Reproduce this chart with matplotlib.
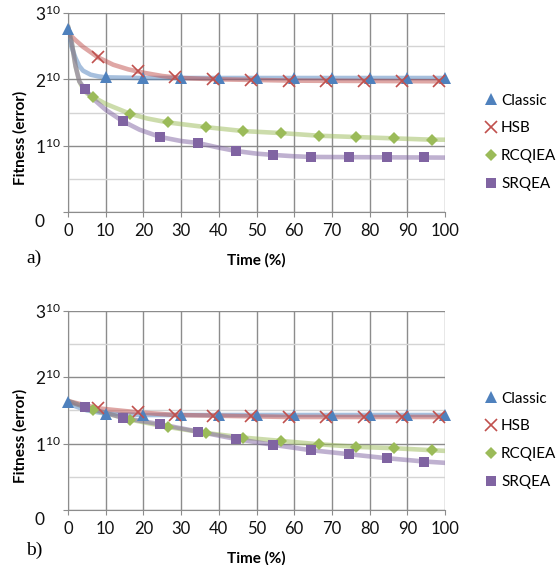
import matplotlib
matplotlib.use("Agg")
import matplotlib.pyplot as plt
from matplotlib.lines import Line2D
from matplotlib.transforms import ScaledTranslation

plt.rcParams["font.family"] = ["Lato", "DejaVu Sans"]
plt.rcParams["mathtext.fontset"] = "custom"
plt.rcParams["mathtext.rm"] = "Lato"

# ── series names / colours ──────────────────────────────────────────────────
NAMES   = ["Classic", "HSB", "RCQIEA", "SRQEA"]
COLORS  = ["#4F81BD", "#C0504D", "#9BBB59", "#8064A2"]
MARKERS = ["^", "x", "D", "s"]
MSIZE   = [9, 8, 6, 7]

# marker positions (time %), shared by both panels
MX_CLASSIC = [0, 10, 20, 30, 40, 50, 60, 70, 80, 90, 100]
MX_HSB     = [8, 18.5, 28.5, 38.5, 48.5, 58.5, 68.5, 78.5, 88.5, 98.5]
MX_RCQIEA  = [6.5, 16.5, 26.5, 36.5, 46.5, 56.5, 66.5, 76.5, 86.5, 96.5]
MX_SRQEA   = [4.5, 14.5, 24.5, 34.5, 44.5, 54.5, 64.5, 74.5, 84.5, 94.5]

# ── panel a): marker values (x 1e10) ────────────────────────────────────────
A_CLASSIC = [2.76, 2.03, 2.02, 2.02, 2.02, 2.02, 2.02, 2.02, 2.02, 2.02, 2.02]
A_HSB     = [2.33, 2.12, 2.03, 2.00, 1.99, 1.98, 1.97, 1.97, 1.97, 1.97]
A_RCQIEA  = [1.74, 1.48, 1.35, 1.28, 1.22, 1.19, 1.15, 1.13, 1.11, 1.09]
A_SRQEA   = [1.85, 1.37, 1.13, 1.04, 0.92, 0.86, 0.83, 0.83, 0.83, 0.83]

# panel a): curve knots
A_LX_CLASSIC = [0, 0.5, 1, 2, 3, 4, 6, 8, 10, 15, 20, 100]
A_LY_CLASSIC = [2.78, 2.62, 2.48, 2.32, 2.2, 2.13, 2.07, 2.045, 2.03, 2.025, 2.02, 2.02]
A_LX_HSB = [0, 2, 4, 6, 8, 12, 16, 20, 25, 30, 40, 50, 60, 100]
A_LY_HSB = [2.70, 2.59, 2.49, 2.41, 2.33, 2.22, 2.15, 2.10, 2.05, 2.02, 2.00, 1.99, 1.98, 1.97]
A_LX_RCQIEA = [0, 1, 2, 3, 4, 5, 6.5, 10, 16.5, 21, 26.5, 36.5, 46.5, 56.5, 66.5, 76.5, 86.5, 96.5, 100]
A_LY_RCQIEA = [2.80, 2.55, 2.20, 1.97, 1.86, 1.79, 1.74, 1.63, 1.48, 1.41, 1.35, 1.28, 1.22, 1.19,
               1.15, 1.13, 1.11, 1.09, 1.09]
A_LX_SRQEA = [0, 1, 2, 3, 4.5, 7, 10, 14.5, 19, 24.5, 30, 34.5, 40, 44.5, 50, 54.5, 60, 64.5, 100]
A_LY_SRQEA = [2.80, 2.55, 2.20, 1.97, 1.85, 1.69, 1.54, 1.37, 1.24, 1.13, 1.07, 1.04, 0.97, 0.92,
              0.88, 0.86, 0.84, 0.83, 0.82]

# ── panel b) ────────────────────────────────────────────────────────────────
B_CLASSIC = [1.62, 1.44, 1.43, 1.43, 1.43, 1.43, 1.43, 1.43, 1.43, 1.43, 1.43]
B_HSB     = [1.53, 1.47, 1.43, 1.42, 1.42, 1.40, 1.40, 1.40, 1.40, 1.40]
B_RCQIEA  = [1.51, 1.36, 1.25, 1.16, 1.09, 1.04, 0.99, 0.95, 0.93, 0.90]
B_SRQEA   = [1.55, 1.39, 1.29, 1.18, 1.07, 0.98, 0.90, 0.84, 0.78, 0.73]

B_LX_CLASSIC = [0, 2, 5, 10, 20, 100]
B_LY_CLASSIC = [1.63, 1.56, 1.50, 1.45, 1.43, 1.43]
B_LX_HSB = [0, 8, 18.5, 28.5, 38.5, 58.5, 100]
B_LY_HSB = [1.64, 1.53, 1.47, 1.43, 1.42, 1.40, 1.40]
B_LX_RCQIEA = [0, 6.5, 16.5, 26.5, 36.5, 46.5, 56.5, 66.5, 76.5, 86.5, 96.5, 100]
B_LY_RCQIEA = [1.64, 1.51, 1.36, 1.25, 1.16, 1.09, 1.04, 0.99, 0.95, 0.93, 0.90, 0.89]
B_LX_SRQEA = [0, 4.5, 14.5, 24.5, 34.5, 44.5, 54.5, 64.5, 74.5, 84.5, 94.5, 100]
B_LY_SRQEA = [1.64, 1.55, 1.39, 1.29, 1.18, 1.07, 0.98, 0.90, 0.84, 0.78, 0.73, 0.71]

Y_TICKS  = [0, 1, 2, 3]
Y_LABELS = ["0", r"$\mathregular{1^{10}}$", r"$\mathregular{2^{10}}$", r"$\mathregular{3^{10}}$"]
X_TICKS  = list(range(0, 101, 10))

MX = [MX_CLASSIC, MX_HSB, MX_RCQIEA, MX_SRQEA]
PANELS = [
    dict(marks=[A_CLASSIC, A_HSB, A_RCQIEA, A_SRQEA],
         lines=[(A_LX_CLASSIC, A_LY_CLASSIC), (A_LX_HSB, A_LY_HSB),
                (A_LX_RCQIEA, A_LY_RCQIEA), (A_LX_SRQEA, A_LY_SRQEA)],
         rect=[68/559, 353/565, 377/559, 199/565], tag="a)", tag_y=307/565),
    dict(marks=[B_CLASSIC, B_HSB, B_RCQIEA, B_SRQEA],
         lines=[(B_LX_CLASSIC, B_LY_CLASSIC), (B_LX_HSB, B_LY_HSB),
                (B_LX_RCQIEA, B_LY_RCQIEA), (B_LX_SRQEA, B_LY_SRQEA)],
         rect=[68/559, 55/565, 377/559, 199.3/565], tag="b)", tag_y=15/565),
]

fig = plt.figure(figsize=(5.59, 5.65), dpi=100)

for p in PANELS:
    ax = fig.add_axes(p["rect"])
    ax.set_xlim(0, 100)
    ax.set_ylim(0, 3)

    for (lx, ly), c in zip(p["lines"], COLORS):
        ax.plot(lx, ly, color=c, lw=3.3, alpha=0.5, solid_capstyle="round", zorder=3)
    for mx, my, c, m, s in zip(MX, p["marks"], COLORS, MARKERS, MSIZE):
        ax.plot(mx, my, ls="none", marker=m, ms=s, color=c, mew=1.2 if m == "x" else 0,
                zorder=4, clip_on=False)

    # grid
    ax.set_xticks(X_TICKS)
    ax.set_yticks(Y_TICKS)
    ax.set_yticks([0.5, 1.5, 2.5], minor=True)
    ax.grid(True, which="major", color="#8c8c8c", lw=1.0, zorder=0)
    ax.grid(True, which="minor", axis="y", color="#d4d4d4", lw=1.0, zorder=0)
    for side in ["top", "right"]:
        ax.spines[side].set_visible(False)
    for side in ["left", "bottom"]:
        ax.spines[side].set_color("#8c8c8c")
    ax.tick_params(which="major", direction="out", length=3.5, color="#8c8c8c",
                   labelsize=12, labelcolor="#111111")
    ax.tick_params(which="minor", length=0)
    ax.tick_params(axis="x", pad=4.5)
    ax.tick_params(axis="y", pad=20.5)

    ax.set_yticklabels(Y_LABELS)
    for lbl in ax.get_yticklabels():
        lbl.set_ha("left")
        lbl.set_fontsize(12.5)
    zero = ax.get_yticklabels()[0]
    zero.set_transform(zero.get_transform() + ScaledTranslation(0, -6/72, fig.dpi_scale_trans))

    ax.set_xlabel("Time (%)", fontsize=11, fontweight="bold")
    ax.xaxis.set_label_coords(0.5, -0.205)
    ax.set_ylabel("Fitness (error)", fontsize=11, fontweight="bold")
    ax.yaxis.set_label_coords(-0.108, 0.373)

    handles = [Line2D([], [], ls="none", marker=m, ms=s, color=c, mew=1.2 if m == "x" else 0)
               for c, m, s in zip(COLORS, MARKERS, MSIZE)]
    ax.legend(handles, NAMES, loc="center left", bbox_to_anchor=(1.106, 0.35),
              frameon=False, fontsize=11, handlelength=0.8, handletextpad=0.25,
              labelspacing=0.9, borderpad=0, borderaxespad=0)

    fig.text(26/559, p["tag_y"], p["tag"], family="Liberation Serif", fontsize=14,
             va="center", ha="left")

fig.savefig("out.png", dpi=100)
